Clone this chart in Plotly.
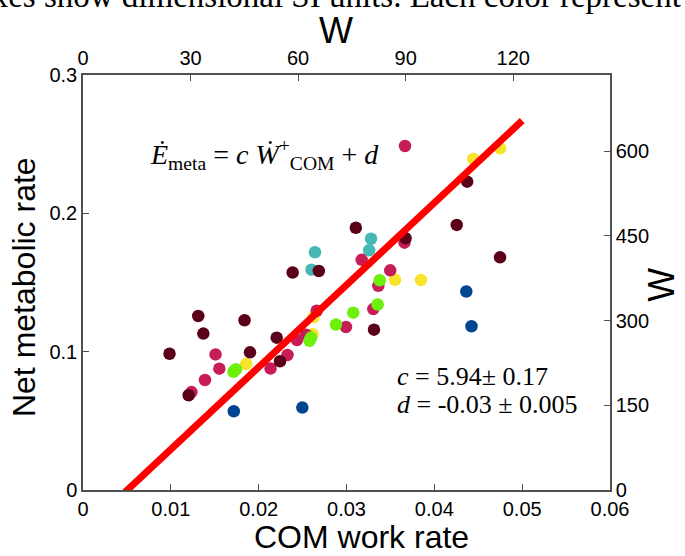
import plotly.graph_objects as go

# Normalised COM work rate (x) and net metabolic rate (y), one group per colour
maroon_x = [0.00985, 0.01312, 0.01370, 0.01203, 0.01839, 0.01901, 0.02205, 0.02243,
            0.02387, 0.02685, 0.03106, 0.03313, 0.03672, 0.04255, 0.04374, 0.04748]
maroon_y = [0.0985, 0.1258, 0.1131, 0.0685, 0.1227, 0.0995, 0.1101, 0.0931,
            0.1572, 0.1583, 0.1896, 0.1159, 0.1820, 0.1916, 0.2229, 0.1682]

crimson_x = [0.01235, 0.01389, 0.01509, 0.01552, 0.02135, 0.02328, 0.02436, 0.02539,
             0.02661, 0.02994, 0.03173, 0.03305, 0.03362, 0.03498, 0.03660, 0.03666]
crimson_y = [0.0708, 0.0795, 0.0980, 0.0877, 0.0878, 0.0976, 0.1084, 0.1123,
             0.1296, 0.1178, 0.1664, 0.1308, 0.1476, 0.1588, 0.1788, 0.2487]

teal_x = [0.02641, 0.02601, 0.03279, 0.03258]
teal_y = [0.1719, 0.1593, 0.1816, 0.1733]

green_x = [0.01713, 0.01742, 0.02579, 0.02596, 0.02880, 0.03077, 0.03355, 0.03378]
green_y = [0.0855, 0.0873, 0.1079, 0.1102, 0.1196, 0.1282, 0.1341, 0.1516]

yellow_x = [0.01858, 0.02613, 0.02624, 0.03552, 0.03848, 0.04444, 0.04750]
yellow_y = [0.0911, 0.1126, 0.1249, 0.1520, 0.1518, 0.2393, 0.2470]

blue_x = [0.01717, 0.02497, 0.04364, 0.04423]
blue_y = [0.0569, 0.0596, 0.1435, 0.1184]

# Linear fit  E_meta = c * W_com + d
FIT_C = 5.94
FIT_D = -0.03
fit_x = [0.0045, 0.0500]
fit_y = [FIT_C * v + FIT_D for v in fit_x]

# Conversion from the normalised units to watts (top and right axes)
W_SCALE = 2450.0

x_ticks = [0, 0.01, 0.02, 0.03, 0.04, 0.05, 0.06]
x_ticktext = ["0", "0.01", "0.02", "0.03", "0.04", "0.05", "0.06"]
y_ticks = [0, 0.1, 0.2, 0.3]
y_ticktext = ["0", "0.1", "0.2", "0.3"]
top_ticks = [0, 30, 60, 90, 120]
right_ticks = [0, 150, 300, 450, 600]

groups = [
    (yellow_x, yellow_y, "#f7e42b"),
    (teal_x, teal_y, "#46b8b6"),
    (crimson_x, crimson_y, "#c71d57"),
    (maroon_x, maroon_y, "#5a0019"),
    (green_x, green_y, "#6cf00c"),
    (blue_x, blue_y, "#00458f"),
]

SANS = "Liberation Sans, Arial, sans-serif"
SERIF = "Liberation Serif, Times New Roman, serif"
AXIS_COLOR = "#505050"

fig = go.Figure()
for gx, gy, col in groups:
    fig.add_trace(go.Scatter(
        x=gx, y=gy, mode="markers",
        marker=dict(size=12.5, color=col, line=dict(width=0)),
        showlegend=False, hoverinfo="x+y",
    ))

fig.add_trace(go.Scatter(
    x=fit_x, y=fit_y, mode="lines",
    line=dict(color="#ff0000", width=7),
    showlegend=False, hoverinfo="skip",
))

# invisible trace so the watt axes are drawn
fig.add_trace(go.Scatter(x=[], y=[], xaxis="x2", yaxis="y2",
                         showlegend=False, hoverinfo="skip"))

common_axis = dict(
    showline=True, linecolor=AXIS_COLOR, linewidth=1.5,
    ticks="inside", ticklen=6, tickwidth=1.2, tickcolor=AXIS_COLOR,
    showgrid=False, zeroline=False,
    tickfont=dict(family=SANS, size=20, color="black"),
)


def label(text, x, y, size, family=SANS, angle=0, xanchor="center"):
    return dict(text=text, xref="paper", yref="paper", x=x, y=y,
                xanchor=xanchor, yanchor="middle", textangle=angle,
                showarrow=False, font=dict(family=family, size=size, color="black"))


fig.update_layout(
    width=685, height=556,
    margin=dict(l=83, r=75, t=75, b=66),
    plot_bgcolor="white", paper_bgcolor="white",
    xaxis=dict(range=[0, 0.06], tickvals=x_ticks, ticktext=x_ticktext, **common_axis),
    yaxis=dict(range=[0, 0.3], tickvals=y_ticks, ticktext=y_ticktext, **common_axis),
    xaxis2=dict(range=[0, 0.06 * W_SCALE], tickvals=top_ticks, overlaying="x",
                side="top", anchor="y", **common_axis),
    yaxis2=dict(range=[0, 0.3 * W_SCALE], tickvals=right_ticks, overlaying="y",
                side="right", anchor="x", **common_axis),
    annotations=[
        # axis titles
        label("COM work rate", 0.529, -0.113, 32),
        label("Net metabolic rate", -0.112, 0.489, 32, angle=-90),
        label("W", 0.48, 1.108, 36),
        label("W", 1.098, 0.494, 36, angle=-90),
        # fit equation and parameters
        label("<i>Ė</i><sub>meta</sub> = <i>c</i> <i>Ẇ</i><sup>+</sup><sub>COM</sub> + <i>d</i>",
              0.123, 0.808, 28, family=SERIF, xanchor="left"),
        label("<i>c</i> = 5.94± 0.17", 0.592, 0.274, 26, family=SERIF, xanchor="left"),
        label("<i>d</i> = -0.03 ± 0.005", 0.592, 0.205, 26, family=SERIF, xanchor="left"),
        # caption line running along the top edge
        label("axes show dimensional SI units. Each color represent",
              1.138, 1.19, 33, family=SERIF, xanchor="right"),
    ],
)

fig.write_html("out.html")
